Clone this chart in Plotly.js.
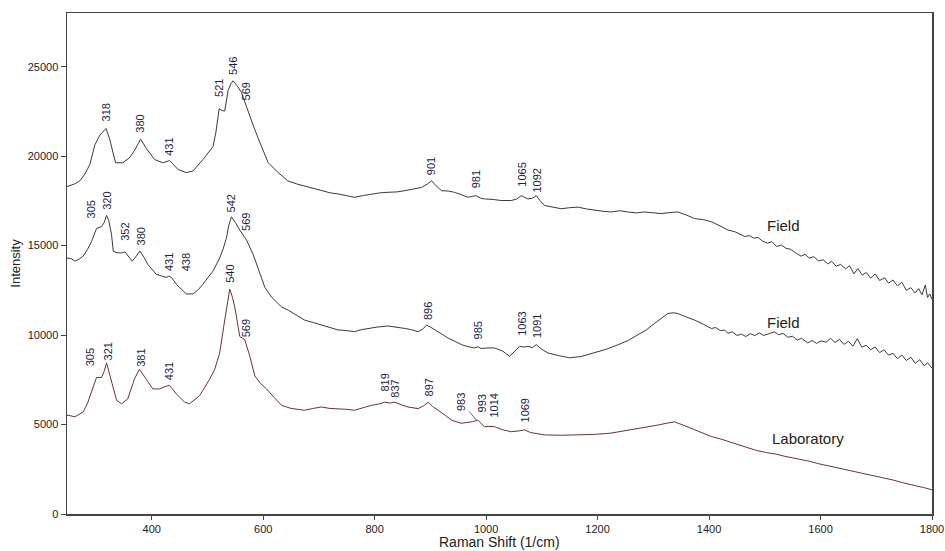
<!DOCTYPE html>
<html>
<head>
<meta charset="utf-8">
<script src="https://cdn.plot.ly/plotly-3.0.1.min.js"></script>
<style>html,body{margin:0;padding:0;background:#fff;}#chart{width:945px;height:551px;}</style>
</head>
<body>
<div id="chart"></div>
<script>
// ---------- Data ----------
const fieldTopX = [248,253,262,271,280,289,298,307,313,318,325,330,335,348,360,370,380,390,405,420,426,432,437,447,462,474,492,505,510,515,521,526,531,537,542,546,553,561,569,582,591,597,609,627,644,660,674,690,704,720,734,750,764,780,794,810,824,840,854,870,884,895,902,910,920,932,943,955,967,975,982,990,997,1012,1027,1045,1055,1063,1068,1075,1083,1090,1097,1105,1120,1135,1150,1165,1180,1195,1210,1224,1240,1254,1270,1284,1300,1314,1330,1344,1360,1374,1390,1404,1420,1434,1446,1455,1464,1472,1480,1488,1496,1505,1513,1521,1530,1538,1546,1555,1565,1572,1580,1588,1596,1605,1613,1620,1628,1636,1645,1652,1660,1667,1675,1682,1690,1698,1706,1715,1722,1730,1738,1746,1754,1762,1770,1776,1782,1788,1792,1796,1800];
const fieldTopY = [18300,18340,18450,18620,19000,19530,20630,21180,21400,21550,20910,20200,19630,19630,19900,20360,20950,20450,19810,19630,19700,19750,19600,19260,19080,19170,19810,20300,20540,21300,22650,22550,22520,23660,24050,24210,23950,23560,22830,21730,21000,20540,19630,19080,18620,18450,18340,18200,18070,17950,17890,17800,17700,17800,17890,17950,17980,18000,18070,18150,18250,18450,18620,18350,18070,18050,17980,17850,17700,17750,17790,17650,17610,17580,17520,17520,17600,17790,17700,17610,17650,17790,17500,17240,17150,17060,17120,17150,17050,16970,16920,16880,16950,16880,16830,16880,16820,16790,16850,16880,16700,16510,16450,16330,16100,15870,15780,15650,15510,15560,15420,15450,15250,15140,15220,14950,15030,14850,14800,14600,14410,14520,14300,14380,14150,14200,13980,14120,13850,13950,13700,13880,13420,13720,13350,13500,13180,13420,13050,13200,12900,13080,12750,12950,12500,12650,12350,12600,12250,12800,12100,12300,12000];

const fieldMidX = [248,255,262,270,277,285,292,301,310,315,319,323,328,331,338,346,352,358,365,372,379,386,393,408,420,426,431,436,444,453,462,474,484,492,500,510,522,528,534,538,543,550,558,570,582,594,603,615,633,645,660,674,690,704,720,734,750,764,776,788,805,824,840,854,866,878,887,893,900,908,920,932,944,956,968,979,985,991,1003,1015,1030,1042,1050,1060,1068,1075,1083,1090,1100,1111,1130,1150,1170,1195,1215,1237,1255,1272,1288,1302,1315,1326,1336,1344,1360,1374,1390,1404,1412,1420,1428,1434,1442,1450,1458,1466,1474,1482,1490,1498,1506,1517,1525,1533,1541,1550,1558,1566,1577,1585,1593,1601,1610,1618,1626,1634,1642,1650,1658,1666,1674,1682,1690,1698,1706,1714,1722,1730,1738,1746,1754,1762,1770,1778,1786,1792,1800];
const fieldMidY = [14300,14280,14130,14250,14410,14800,15230,15960,16060,16300,16690,16400,15600,14680,14600,14590,14650,14400,14130,14400,14700,14350,13950,13400,13250,13220,13300,13200,12850,12550,12300,12300,12550,12850,13200,13580,14310,14800,15410,16100,16610,16300,15870,15320,14500,13400,12670,12120,11570,11390,11100,10840,10700,10560,10400,10290,10250,10190,10300,10370,10450,10510,10450,10370,10300,10190,10350,10560,10450,10290,10050,9830,9650,9460,9350,9280,9350,9250,9280,9280,9100,8820,9050,9370,9330,9370,9300,9460,9200,9000,8850,8730,8800,9000,9200,9460,9700,10010,10300,10650,10950,11200,11250,11200,11000,10840,10600,10370,10420,10250,10280,10100,10180,9980,10050,9920,10080,9970,10120,9980,10060,10180,10020,10090,9880,9930,9720,9820,9560,9700,9530,9680,9600,9820,9580,9760,9480,9650,9380,9800,9320,9430,9180,9330,9020,9180,8880,8980,8680,8880,8580,8760,8420,8620,8280,8450,8150];

const labX = [248,250,262,277,285,292,301,310,315,319,324,328,337,346,357,369,378,390,402,414,426,431,437,444,459,468,486,504,513,522,531,536,540,545,549,558,567,576,585,595,606,620,633,650,674,690,704,720,734,750,764,780,794,808,818,828,836,848,860,878,888,896,904,914,926,938,955,966,976,985,992,997,1005,1015,1030,1045,1060,1069,1080,1105,1135,1165,1195,1224,1250,1272,1290,1308,1325,1338,1355,1374,1390,1404,1420,1434,1446,1464,1485,1505,1520,1535,1550,1565,1580,1595,1610,1625,1640,1655,1670,1685,1700,1715,1730,1745,1760,1770,1785,1796,1800];
const labY = [5500,5520,5430,5700,6200,6800,7630,7630,8000,8450,7900,7350,6350,6160,6440,7540,8090,7540,6990,6990,7170,7200,7000,6720,6250,6160,6620,7540,8090,9000,10840,11800,12570,12100,11570,9920,9740,8820,7720,7300,6990,6500,6070,5900,5800,5900,5980,5900,5890,5850,5800,5950,6070,6150,6250,6200,6250,6100,5980,5890,6050,6250,6000,5800,5500,5250,5070,5100,5160,5250,5050,4880,4900,4880,4700,4600,4650,4700,4550,4420,4400,4420,4450,4520,4650,4790,4880,4970,5080,5150,4950,4700,4500,4330,4200,4060,3900,3750,3550,3420,3350,3230,3150,3050,2950,2820,2720,2590,2500,2400,2330,2230,2100,2000,1900,1770,1680,1580,1480,1400,1350];

const peaksTop = [318,380,431,521,546,569,901,981,1065,1092];
const peaksMid = [305,320,352,380,431,438,542,569,896,985,1063,1091];
const peaksLab = [305,321,381,431,540,569,819,837,897,983,993,1014,1069];

const tickValsX = [400,600,800,1000,1200,1400,1600,1800];
const tickValsY = [0,5000,10000,15000,20000,25000];

// ---------- Helpers ----------
function interp(xs, ys, x) {
  for (let i = 0; i < xs.length - 1; i++) {
    if (x >= xs[i] && x <= xs[i+1]) {
      const t = (x - xs[i]) / (xs[i+1] - xs[i]);
      return ys[i] + t * (ys[i+1] - ys[i]);
    }
  }
  return ys[ys.length-1];
}
const FONT = 'Liberation Sans, Arial, sans-serif';
const labelFont = {family: FONT, size: 11, color: '#1c1c44'};
// extra pixel lift above the curve for each label (layout only)
const liftTop = [3,2,1,8,2,1,2,3,6,1];
const liftMid = [5,3,7,2,1,4,2,4,2,3,7,3];
const liftLab = [7,2,1,1,2,2,7,1,2,8,8,5,3];
const shiftX = {305: -8, 438: 13};

function peakLabels(xs, ys, peaks, lift) {
  return peaks.map((p, i) => {
    const base = {x: p, y: interp(xs, ys, p), text: String(p), textangle: -90,
      font: labelFont, xref: 'x', yref: 'y'};
    if (p === 983) {
      return Object.assign(base, {showarrow: true, arrowhead: 0, arrowwidth: 0.8,
        arrowcolor: '#444', ax: -15, ay: -18});
    }
    return Object.assign(base, {showarrow: false, xanchor: 'center', yanchor: 'bottom',
      yshift: 2 + lift[i], xshift: shiftX[p] || 0});
  });
}

const seriesFont = {family: FONT, size: 15, color: '#222'};
const annotations = []
  .concat(peakLabels(fieldTopX, fieldTopY, peaksTop, liftTop))
  .concat(peakLabels(fieldMidX, fieldMidY, peaksMid, liftMid))
  .concat(peakLabels(labX, labY, peaksLab, liftLab))
  .concat([
    {x: 1534, y: 16130, text: 'Field', showarrow: false, font: seriesFont},
    {x: 1534, y: 10725, text: 'Field', showarrow: false, font: seriesFont},
    {x: 1578, y: 4230, text: 'Laboratory', showarrow: false, font: seriesFont},
    // x-axis title, placed under the tick labels
    {xref: 'paper', yref: 'paper', x: 0.5, y: 0, yshift: -38, xanchor: 'center', yanchor: 'bottom',
     text: 'Raman Shift (1/cm)', showarrow: false, font: {family: FONT, size: 14, color: '#222'}}
  ]);

const traces = [
  {x: fieldTopX, y: fieldTopY, type: 'scatter', mode: 'lines', name: 'Field',
   line: {color: '#3a3a3a', width: 1}},
  {x: fieldMidX, y: fieldMidY, type: 'scatter', mode: 'lines', name: 'Field',
   line: {color: '#3a3a3a', width: 1}},
  {x: labX, y: labY, type: 'scatter', mode: 'lines', name: 'Laboratory',
   line: {color: '#6a3434', width: 1}}
];

const axisFont = {family: FONT, size: 11, color: '#222'};
const layout = {
  width: 945, height: 551,
  margin: {l: 67, r: 13, t: 13, b: 37},
  paper_bgcolor: '#fff', plot_bgcolor: '#fff',
  showlegend: false,
  xaxis: {
    range: [248, 1800], tickvals: tickValsX, ticktext: tickValsX.map(String),
    ticks: 'outside', ticklen: 4, tickcolor: '#444', tickwidth: 1,
    showline: true, linecolor: '#444', linewidth: 1.5, mirror: true,
    showgrid: false, zeroline: false, tickfont: axisFont
  },
  yaxis: {
    range: [0, 28000], tickvals: tickValsY, ticktext: tickValsY.map(String),
    ticks: 'outside', ticklen: 5, tickcolor: '#444', tickwidth: 1,
    showline: true, linecolor: '#444', linewidth: 1.5, mirror: true,
    showgrid: false, zeroline: false, tickfont: axisFont,
    title: {text: 'Intensity', font: {family: FONT, size: 13, color: '#222'}, standoff: 4}
  },
  annotations: annotations
};

Plotly.newPlot('chart', traces, layout, {displayModeBar: false, staticPlot: true});
</script>
</body>
</html>
